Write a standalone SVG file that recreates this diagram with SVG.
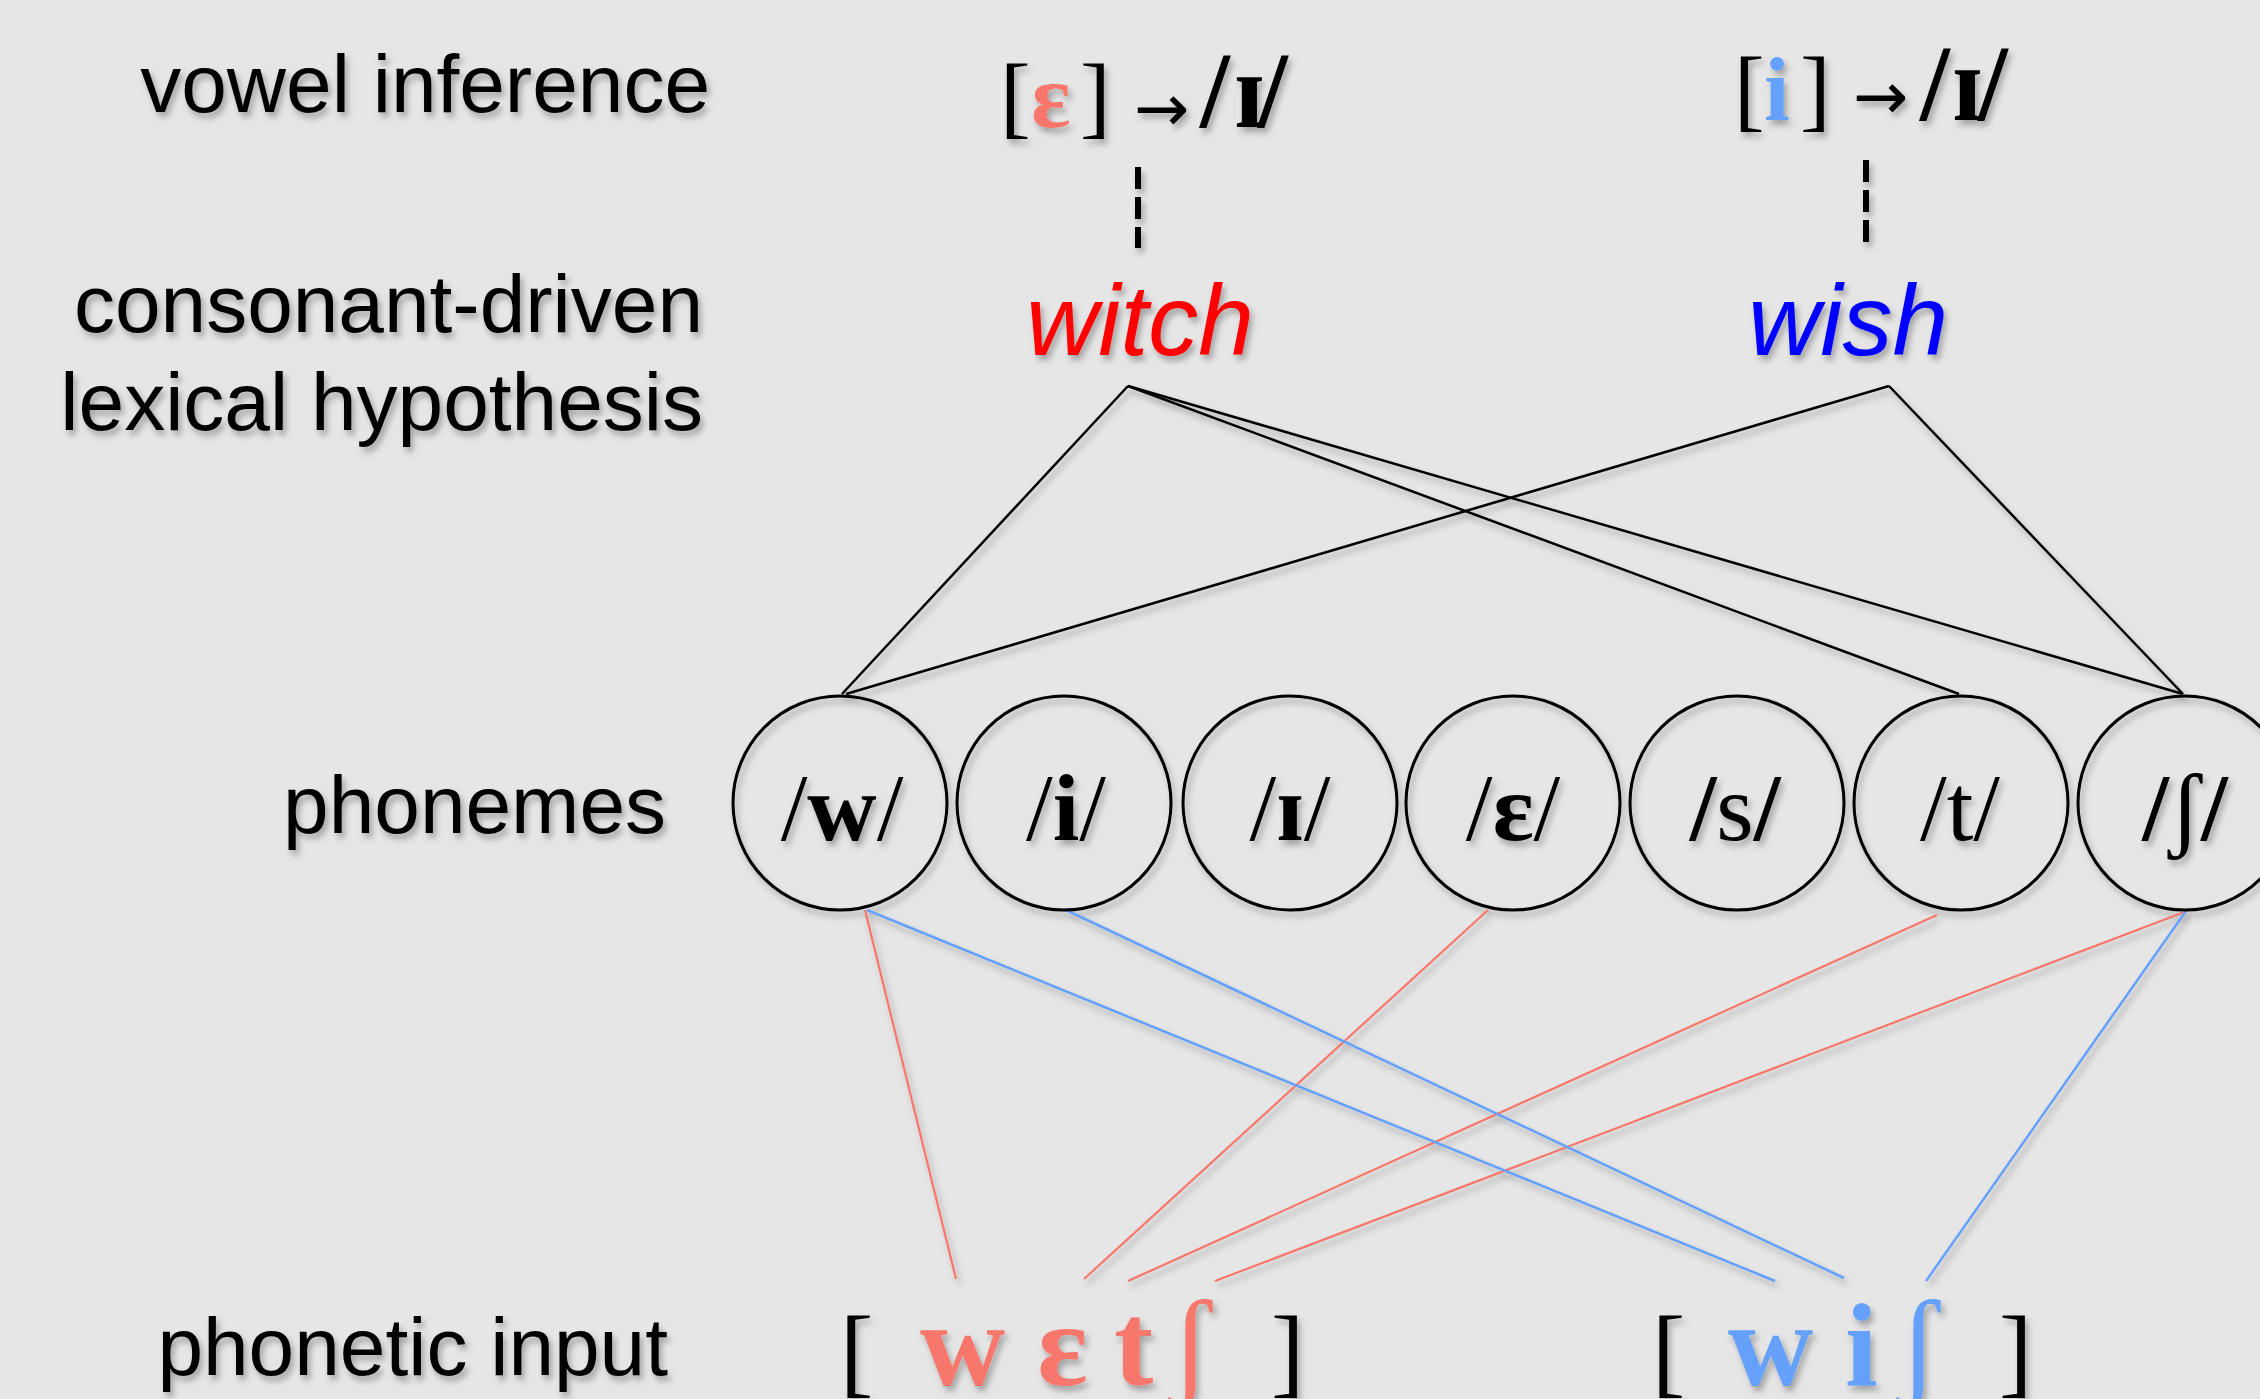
<svg xmlns="http://www.w3.org/2000/svg" width="2260" height="1399" viewBox="0 0 2260 1399">
<defs>
<filter id="sh" x="-5%" y="-5%" width="110%" height="110%">
<feDropShadow dx="3" dy="5" stdDeviation="3" flood-color="#000" flood-opacity="0.3"/>
</filter>
<style>
.lbl{font-family:"Liberation Sans",Arial,sans-serif;font-size:82px;fill:#000;text-anchor:end}
.word{font-family:"Liberation Sans",Arial,sans-serif;font-style:italic;font-size:100px;text-anchor:middle}
.ser{font-family:"Liberation Serif","DejaVu Serif",serif;fill:#000}
.b{font-weight:bold}
.arr{font-family:"DejaVu Sans",sans-serif;font-size:66px;fill:#000}
.ph{font-family:"Liberation Serif","DejaVu Serif",serif;font-size:96px;text-anchor:middle;fill:#000}
.node{fill:none;stroke:#000;stroke-width:3}
.blk{stroke:#000;stroke-width:2.5;fill:none}
.red{stroke:#f8776c;stroke-width:2.2;fill:none}
.blu{stroke:#65a1fa;stroke-width:2.5;fill:none}
.dash{stroke:#000;stroke-width:6;stroke-dasharray:22 8;fill:none}
.sal{fill:#f8776c}
.sky{fill:#65a1fa}
</style>
</defs>
<rect width="2260" height="1399" fill="#e6e6e6"/>
<g filter="url(#sh)">
<g id="labels">
<text class="lbl" x="710" y="112">vowel inference</text>
<text class="lbl" x="703" y="332">consonant-driven</text>
<text class="lbl" x="703" y="430">lexical hypothesis</text>
<text class="lbl" x="666" y="833">phonemes</text>
<text class="lbl" x="668" y="1375">phonetic input</text>
</g>
<g id="connectors">
<line class="dash" x1="1138" y1="167" x2="1138" y2="248"/>
<line class="dash" x1="1866" y1="160" x2="1866" y2="242"/>
<line class="blk" x1="1128" y1="386" x2="842" y2="694"/>
<line class="blk" x1="1128" y1="386" x2="1959" y2="694"/>
<line class="blk" x1="1128" y1="386" x2="2183" y2="694"/>
<line class="blk" x1="1889" y1="386" x2="846" y2="694"/>
<line class="blk" x1="1889" y1="386" x2="2183" y2="694"/>
<line class="red" x1="865" y1="910" x2="956" y2="1279"/>
<line class="red" x1="1488" y1="910" x2="1084" y2="1279"/>
<line class="red" x1="1937" y1="915" x2="1128" y2="1281"/>
<line class="red" x1="2187" y1="911" x2="1215" y2="1281"/>
<line class="blu" x1="867" y1="910" x2="1775" y2="1281"/>
<line class="blu" x1="1066" y1="910" x2="1844" y2="1278"/>
<line class="blu" x1="2186" y1="911" x2="1926" y2="1281"/>
</g>
<g id="vowel-inference-witch">
<text class="ser" y="127" font-size="92"><tspan x="1000">[</tspan><tspan x="1031" class="sal b">ɛ</tspan><tspan x="1080">]</tspan></text>
<text class="arr" x="1134" y="131">→</text>
<text class="ser b" y="127" font-size="107"><tspan x="1200">/</tspan><tspan x="1234">ɪ</tspan><tspan x="1258">/</tspan></text>
</g>
<g id="vowel-inference-wish">
<text class="ser" y="120" font-size="92"><tspan x="1734">[</tspan><tspan x="1764" class="sky b">i</tspan><tspan x="1800">]</tspan></text>
<text class="arr" x="1853" y="119">→</text>
<text class="ser b" y="120" font-size="107"><tspan x="1920">/</tspan><tspan x="1952">ɪ</tspan><tspan x="1978">/</tspan></text>
</g>
<g id="word-witch"><text class="word" x="1140" y="355" fill="#ff0000">witch</text></g>
<g id="word-wish"><text class="word" x="1848" y="355" fill="#0000ff">wish</text></g>
<g id="ph-w"><circle class="node" cx="840" cy="803" r="107"/><text class="ph" x="842" y="840">/<tspan class="b">w</tspan>/</text></g>
<g id="ph-i"><circle class="node" cx="1064" cy="803" r="107"/><text class="ph" x="1066" y="840">/<tspan class="b">i</tspan>/</text></g>
<g id="ph-I"><circle class="node" cx="1290" cy="803" r="107"/><text class="ph" x="1290" y="840">/<tspan class="b">ɪ</tspan>/</text></g>
<g id="ph-E"><circle class="node" cx="1513" cy="803" r="107"/><text class="ph" x="1513" y="840">/<tspan class="b">ɛ</tspan>/</text></g>
<g id="ph-s"><circle class="node" cx="1737" cy="803" r="107"/><text class="ph" x="1735" y="840"><tspan class="b">/</tspan>s<tspan class="b">/</tspan></text></g>
<g id="ph-t"><circle class="node" cx="1961" cy="803" r="107"/><text class="ph" x="1960" y="840">/t/</text></g>
<g id="ph-sh"><circle class="node" cx="2185" cy="803" r="107"/><text class="ph" x="2185" y="840"><tspan class="b">/</tspan>ʃ<tspan class="b">/</tspan></text></g>
<g id="input-witch">
<text class="ser" y="1385" font-size="100"><tspan x="840">[</tspan><tspan x="1271">]</tspan></text>
<text class="ser b sal" y="1385" font-size="118"><tspan x="920">w</tspan><tspan x="1037">ɛ</tspan><tspan x="1114">t</tspan></text>
<text class="ser sal" y="1385" font-size="122"><tspan x="1170">ʃ</tspan></text>
</g>
<g id="input-wish">
<text class="ser" y="1385" font-size="100"><tspan x="1652">[</tspan><tspan x="1999">]</tspan></text>
<text class="ser b sky" y="1385" font-size="118"><tspan x="1728">w</tspan><tspan x="1845">i</tspan></text>
<text class="ser sky" y="1385" font-size="122"><tspan x="1898">ʃ</tspan></text>
</g>
</g>
</svg>
